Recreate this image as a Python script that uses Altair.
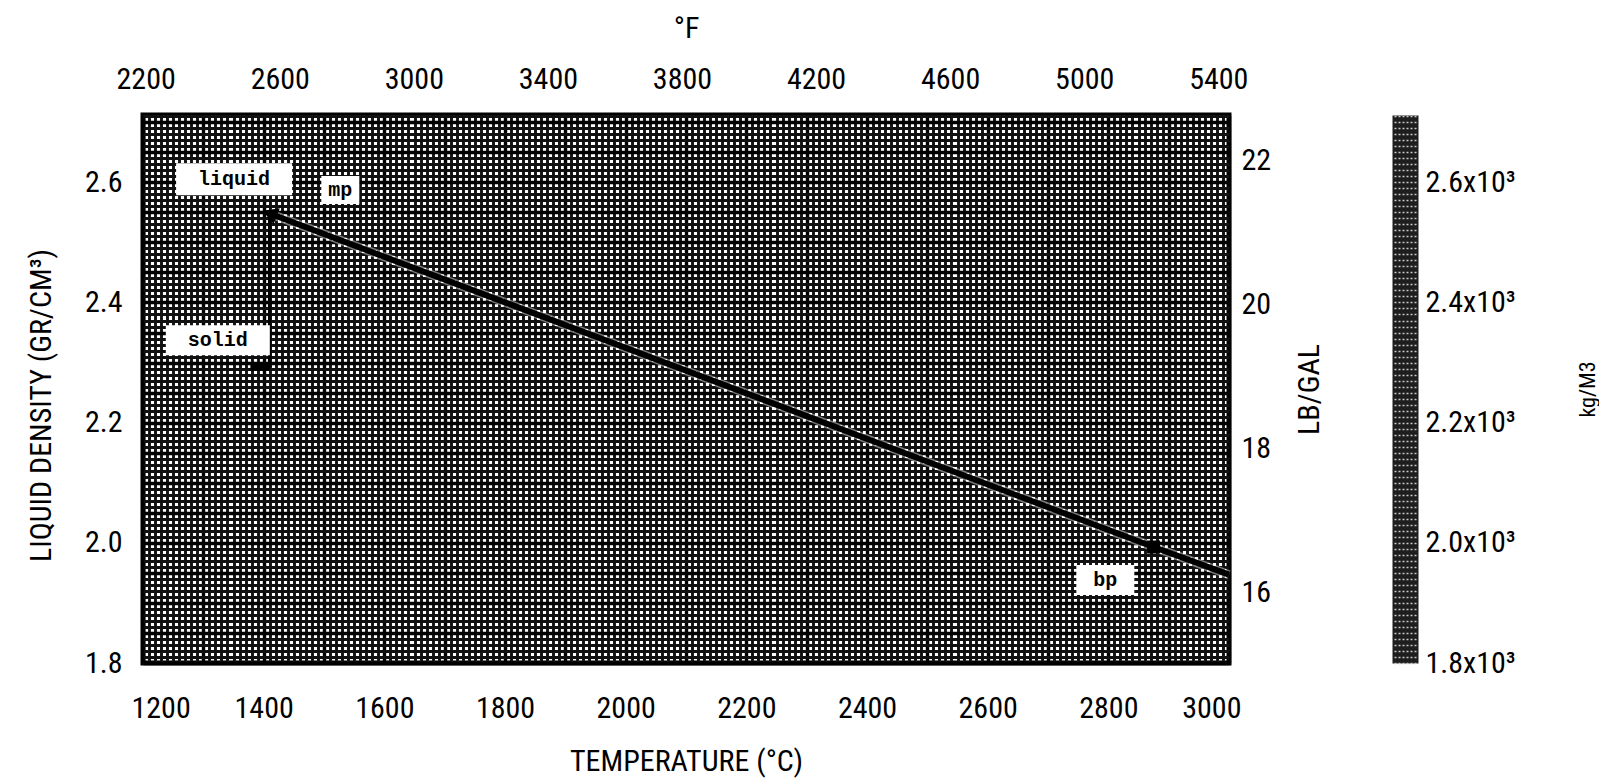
import altair as alt
import pandas as pd

# ---- data ----
liquid_T = [1410, 2875, 3000]
liquid_rho = [2.548, 1.993, 1.947]
solid_T = [1410, 1410]
solid_rho = [2.548, 2.292]
foot_T = [1378, 1410]
foot_rho = [2.292, 2.292]
mp_T = [1410]
mp_rho = [2.548]
bp_T = [2875]
bp_rho = [1.993]
label_text = ["liquid", "mp", "solid", "bp"]
label_T = [1351, 1527, 1324, 2795]
label_rho = [2.605, 2.587, 2.337, 1.938]

c_ticks = [1200, 1400, 1600, 1800, 2000, 2200, 2400, 2600, 2800, 3000]
f_ticks = [2200, 2600, 3000, 3400, 3800, 4200, 4600, 5000, 5400]
rho_ticks = [1.8, 2.0, 2.2, 2.4, 2.6]
lbgal_ticks = [16, 18, 20, 22]
kg_ticks = [1800, 2000, 2200, 2400, 2600]

# ---- styling ----
FONT = "Liberation Sans Narrow, Roboto Condensed, DejaVu Sans Condensed, sans-serif"
MONO = "Liberation Mono, Courier New, DejaVu Sans Mono, monospace"
W, H = 1086, 548
T_MIN, T_MAX = 1200, 3000
R_MIN, R_MAX = 1.8, 2.712
LB_PER_GCC = 8.345

XS = alt.Scale(domain=[T_MIN, T_MAX], nice=False, zero=False)
YS = alt.Scale(domain=[R_MIN, R_MAX], nice=False, zero=False)
FS = alt.Scale(domain=[T_MIN * 9 / 5 + 32, T_MAX * 9 / 5 + 32], nice=False, zero=False)
LBS = alt.Scale(domain=[R_MIN * LB_PER_GCC, R_MAX * LB_PER_GCC], nice=False, zero=False)
KGS = alt.Scale(domain=[R_MIN * 1000, R_MAX * 1000], nice=False, zero=False)

df_liq = pd.DataFrame({"T": liquid_T, "rho": liquid_rho})
df_sol = pd.DataFrame({"T": solid_T, "rho": solid_rho})
df_foot = pd.DataFrame({"T": foot_T, "rho": foot_rho})
df_mp = pd.DataFrame({"T": mp_T, "rho": mp_rho})
df_bp = pd.DataFrame({"T": bp_T, "rho": bp_rho})
df_lab = pd.DataFrame({"label": label_text, "T": label_T, "rho": label_rho})

# graph-paper grid (minor every 10 degC / 0.01, major every 100 degC / 0.05)
minor_x = list(range(T_MIN, T_MAX + 1, 10))
major_x = list(range(T_MIN, T_MAX + 1, 100))
minor_y = [round(R_MIN + i * 0.01, 2) for i in range(92)]
major_y = [round(R_MIN + i * 0.05, 2) for i in range(19)]
strip_y = list(range(1800, 2712, 10))


def grid_layer(xv, yv, width, color):
    return alt.Chart(df_liq).mark_point(opacity=0).encode(
        x=alt.X("T:Q", scale=XS, axis=alt.Axis(orient="bottom", values=xv, grid=True,
                                                gridColor=color, gridWidth=width,
                                                labels=False, ticks=False, domain=False,
                                                title=None)),
        y=alt.Y("rho:Q", scale=YS, axis=alt.Axis(orient="left", values=yv, grid=True,
                                                  gridColor=color, gridWidth=width,
                                                  labels=False, ticks=False, domain=False,
                                                  title=None)),
    )


g_minor = grid_layer(minor_x, minor_y, 2.9, "#111111")
g_major = grid_layer(major_x, major_y, 3.4, "#000000")

xenc = alt.X("T:Q", scale=XS, axis=None)
yenc = alt.Y("rho:Q", scale=YS, axis=None)

main_axes = alt.Chart(df_liq).mark_point(opacity=0).encode(
    x=alt.X("T:Q", scale=XS, axis=alt.Axis(orient="bottom", values=c_ticks, format="d",
                                            labelPadding=30, labelFlushOffset=12,
                                            title="TEMPERATURE (°C)", titlePadding=23)),
    y=alt.Y("rho:Q", scale=YS, axis=alt.Axis(orient="left", values=rho_ticks, format=".1f",
                                              labelPadding=21,
                                              title="LIQUID DENSITY (GR/CM³)",
                                              titlePadding=28, titleY=290)),
)

f_axis = alt.Chart(df_liq).transform_calculate(F="datum.T * 9 / 5 + 32").mark_point(opacity=0).encode(
    x=alt.X("F:Q", scale=FS, axis=alt.Axis(orient="top", values=f_ticks, format="d",
                                            labelPadding=21, labelFlush=False,
                                            title="°F", titlePadding=21)),
    y=yenc,
)

lb_axis = alt.Chart(df_liq).transform_calculate(LB=f"datum.rho * {LB_PER_GCC}").mark_point(opacity=0).encode(
    x=xenc,
    y=alt.Y("LB:Q", scale=LBS, axis=alt.Axis(orient="right", values=lbgal_ticks, format="d",
                                              labelPadding=12, title="LB/GAL",
                                              titleAngle=270, titlePadding=54)),
)

kg_axis = alt.Chart(df_liq).transform_calculate(KG="datum.rho * 1000").mark_point(opacity=0).encode(
    x=xenc,
    y=alt.Y("KG:Q", scale=KGS, axis=alt.Axis(orient="right", values=kg_ticks, offset=176,
                                              domain=True, domainWidth=26, domainColor="#1e1e1e",
                                              labelPadding=20,
                                              labelExpr="format(datum.value / 1000, '.1f') + 'x10³'",
                                              title="kg/M3", titleAngle=270, titleFontSize=22,
                                              titlePadding=84)),
)

# fine hatching on the kg/m3 graph-paper strip
kg_hatch = alt.Chart(df_liq).transform_calculate(KG="datum.rho * 1000").mark_point(opacity=0).encode(
    x=xenc,
    y=alt.Y("KG:Q", scale=KGS, axis=alt.Axis(orient="right", values=strip_y, offset=165,
                                              ticks=True, tickSize=22, tickWidth=1.5,
                                              tickColor="#c8c8c8", tickDash=[2, 2],
                                              labels=False, domain=False, title=None)),
)

liquid_halo = alt.Chart(df_liq).mark_line(color="white", strokeWidth=9, opacity=0.45).encode(x=xenc, y=yenc)
liquid_line = alt.Chart(df_liq).mark_line(color="black", strokeWidth=6).encode(x=xenc, y=yenc)
solid_line = alt.Chart(df_sol).mark_line(color="black", strokeWidth=3.5).encode(x=xenc, y=yenc)
foot_line = alt.Chart(df_foot).mark_line(color="black", strokeWidth=7).encode(x=xenc, y=yenc)
mp_mark = alt.Chart(df_mp).mark_point(shape="triangle-left", filled=True, size=300, angle=21,
                                      color="black", opacity=1).encode(x=xenc, y=yenc)
bp_mark = alt.Chart(df_bp).mark_square(size=170, color="black", opacity=1).encode(x=xenc, y=yenc)

BOX = {"liquid": (116, 32), "mp": (38, 28), "solid": (104, 30), "bp": (58, 30)}
box_layers = []
for name, (bw, bh) in BOX.items():
    box_layers.append(
        alt.Chart(df_lab).transform_filter(alt.datum.label == name).mark_rect(
            fill="white", xOffset=-bw / 2, x2Offset=bw / 2, yOffset=-bh / 2, y2Offset=bh / 2
        ).encode(x=xenc, x2="T:Q", y=yenc, y2="rho:Q")
    )

labels = alt.Chart(df_lab).mark_text(font=MONO, fontWeight="bold", fontSize=20,
                                     color="black").encode(x=xenc, y=yenc, text="label:N")

chart = alt.layer(
    g_minor, g_major, main_axes, f_axis, lb_axis, kg_axis, kg_hatch,
    liquid_halo, liquid_line, solid_line, foot_line, mp_mark, bp_mark, *box_layers, labels
).resolve_scale(x="independent", y="independent").properties(
    width=W, height=H, padding={"left": 18, "top": 5, "right": 0, "bottom": 5}
).configure_view(
    stroke="black", strokeWidth=5, fill="white"
).configure_axis(
    labelFont=FONT, titleFont=FONT, labelFontSize=30, titleFontSize=30,
    labelColor="black", titleColor="black", titleFontWeight="normal",
    ticks=False, domain=False, grid=False
)

chart.save("out.html", embed_options={"renderer": "svg", "actions": False})
